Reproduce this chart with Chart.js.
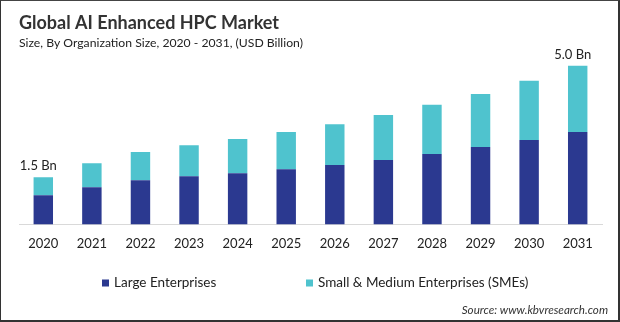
<!DOCTYPE html>
<html>
<head>
<meta charset="utf-8">
<script src="https://cdn.jsdelivr.net/npm/chart.js@4/dist/chart.umd.min.js"></script>
<style>
  html, body { margin: 0; padding: 0; background: #fff; }
  #wrap { position: relative; width: 620px; height: 322px; box-sizing: border-box;
          border-left: 1px solid #333; border-top: 1px solid #444; border-right: 2px solid #333; border-bottom: 2px solid #333; }
  canvas { display: block; }
</style>
</head>
<body>
<div id="wrap"><canvas id="c" width="617" height="319"></canvas></div>
<script>
const years = ['2020','2021','2022','2023','2024','2025','2026','2027','2028','2029','2030','2031'];
const largeEnterprises = [0.92, 1.17, 1.39, 1.52, 1.61, 1.74, 1.87, 2.03, 2.22, 2.44, 2.66, 2.91];
const smes = [0.57, 0.76, 0.89, 0.98, 1.08, 1.17, 1.29, 1.42, 1.55, 1.67, 1.87, 2.09];
const totalLabels = ['1.5 Bn', '', '', '', '', '', '', '', '', '', '', '5.0 Bn'];
const sourceText = 'Source: www.kbvresearch.com';

const FONT = 'Lato, "Noto Sans", sans-serif';

const extrasPlugin = {
  id: 'extras',
  afterDatasetsDraw(chart) {
    const ctx = chart.ctx;
    const xs = chart.scales.x, ys = chart.scales.y;
    ctx.save();
    // total labels
    ctx.font = '13px ' + FONT;
    ctx.fillStyle = '#222';
    ctx.textAlign = 'center';
    ctx.textBaseline = 'bottom';
    totalLabels.forEach((lab, i) => {
      if (!lab) return;
      const total = largeEnterprises[i] + smes[i];
      ctx.fillText(lab, xs.getPixelForValue(i) - 5, ys.getPixelForValue(total) - 5);
    });
    // legend
    const legendY = 282;
    const legendX = [101, 305];
    ctx.font = '13.5px ' + FONT;
    ctx.textAlign = 'left';
    ctx.textBaseline = 'middle';
    chart.data.datasets.forEach((ds, i) => {
      ctx.fillStyle = ds.backgroundColor;
      ctx.fillRect(legendX[i], legendY - 3.5, 7, 7);
      ctx.fillStyle = '#222';
      ctx.fillText(ds.label, legendX[i] + 12, legendY);
    });
    // source
    ctx.font = 'italic 11.6px ' + FONT;
    ctx.fillStyle = '#333';
    ctx.textAlign = 'right';
    ctx.textBaseline = 'middle';
    ctx.fillText(sourceText, chart.width - 10, 309);
    ctx.restore();
  }
};

new Chart(document.getElementById('c'), {
  type: 'bar',
  data: {
    labels: years,
    datasets: [
      { label: 'Large Enterprises', data: largeEnterprises, backgroundColor: '#2b3990', borderWidth: 0 },
      { label: 'Small & Medium Enterprises (SMEs)', data: smes, backgroundColor: '#4fc3ce', borderWidth: 0 }
    ]
  },
  options: {
    responsive: false,
    animation: false,
    devicePixelRatio: 1,
    layout: { padding: { left: 18, right: 16, top: 4, bottom: 56 } },
    datasets: { bar: { categoryPercentage: 1, barPercentage: 0.4 } },
    scales: {
      x: {
        stacked: true,
        grid: { display: false, drawTicks: false },
        border: { display: true, color: '#d9d9d9', width: 1 },
        ticks: { color: '#222', font: { family: FONT, size: 13 }, padding: 12 }
      },
      y: {
        stacked: true,
        display: false,
        min: 0,
        max: 5.24
      }
    },
    plugins: {
      title: {
        display: true, text: 'Global AI Enhanced HPC Market', align: 'start',
        color: '#333', font: { family: FONT, size: 18, weight: 'bold' },
        padding: { top: 7, bottom: 2 }
      },
      subtitle: {
        display: true, text: 'Size, By Organization Size, 2020 - 2031, (USD Billion)', align: 'start',
        color: '#222', font: { family: FONT, size: 12.2 },
        padding: { top: 0, bottom: 8 }
      },
      legend: { display: false },
      tooltip: { enabled: false }
    }
  },
  plugins: [extrasPlugin]
});
</script>
</body>
</html>
